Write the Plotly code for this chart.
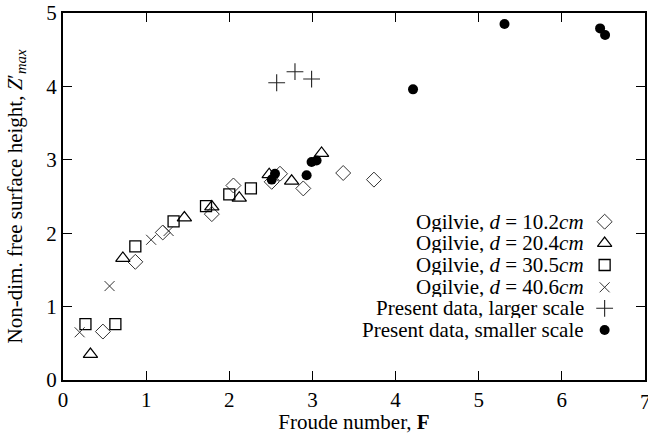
import plotly.graph_objects as go

# ---- data ----
d102_x = [0.48, 0.87, 1.20, 1.79, 2.05, 2.51, 2.61, 2.89, 3.37, 3.74]
d102_y = [0.66, 1.61, 2.01, 2.26, 2.65, 2.70, 2.81, 2.61, 2.82, 2.73]

d204_x = [0.33, 0.72, 1.46, 1.79, 2.12, 2.48, 2.75, 3.11]
d204_y = [0.35, 1.66, 2.21, 2.36, 2.48, 2.80, 2.71, 3.09]

d305_x = [0.27, 0.63, 0.87, 1.33, 1.72, 2.00, 2.26]
d305_y = [0.76, 0.76, 1.82, 2.16, 2.37, 2.53, 2.61]

d406_x = [0.20, 0.56, 1.06, 1.27]
d406_y = [0.65, 1.28, 1.91, 2.03]

large_x = [2.57, 2.79, 2.99]
large_y = [4.05, 4.20, 4.10]

small_x = [2.51, 2.55, 2.93, 2.99, 3.05, 4.21, 5.31, 6.46, 6.52]
small_y = [2.73, 2.81, 2.79, 2.97, 2.99, 3.96, 4.85, 4.79, 4.70]

legend_labels = [
    "Ogilvie, <i>d</i> = 10.2<i>cm</i>",
    "Ogilvie, <i>d</i> = 20.4<i>cm</i>",
    "Ogilvie, <i>d</i> = 30.5<i>cm</i>",
    "Ogilvie, <i>d</i> = 40.6<i>cm</i>",
    "Present data, larger scale",
    "Present data, smaller scale",
]

x_ticks = [0, 1, 2, 3, 4, 5, 6, 7]
y_ticks = [0, 1, 2, 3, 4, 5]

FONT = "Liberation Serif"
FS = 21

styles = [
    dict(symbol="diamond-open", size=11.5, color="#333", line=dict(width=1, color="#333")),
    dict(symbol="triangle-up-open", size=12.5, color="black", line=dict(width=1.2, color="black")),
    dict(symbol="square-open", size=11, color="black", line=dict(width=1.3, color="black")),
    dict(symbol="x-thin", size=10, color="#333", line=dict(width=1, color="#333")),
    dict(symbol="cross-thin", size=12, color="#222", line=dict(width=1.1, color="#222")),
    dict(symbol="circle", size=10, color="black", line=dict(width=0, color="black")),
]
series = [(d102_x, d102_y), (d204_x, d204_y), (d305_x, d305_y),
          (d406_x, d406_y), (large_x, large_y), (small_x, small_y)]

fig = go.Figure()
for (xs, ys), st in zip(series, styles):
    fig.add_trace(go.Scatter(x=xs, y=ys, mode="markers", marker=st,
                             showlegend=False, hoverinfo="skip"))

# custom legend: text right-aligned, symbol to the right
L = 63.5
W = 584
H = 367
B = 380
text_right_px = 587
sym_px = 607
row_px = [221.7, 243.3, 265.0, 287.3, 308.3, 330.0]
lx = [(sym_px - L) / W] * len(row_px)
ly = [(B - r) / H for r in row_px]
for i, (lab, st) in enumerate(zip(legend_labels, styles)):
    fig.add_trace(go.Scatter(x=[lx[i]], y=[ly[i]], mode="markers", marker=st,
                             xaxis="x2", yaxis="y2", showlegend=False, hoverinfo="skip"))
    fig.add_annotation(x=(text_right_px - L) / W, y=ly[i], xref="paper", yref="paper",
                       text=lab, showarrow=False, xanchor="right", yanchor="middle",
                       height=20, borderpad=0, valign="middle",
                       font=dict(family=FONT, size=FS, color="black"))

# last x tick label sits on the figure edge (partly cut, as in the reference)
fig.add_annotation(x=x_ticks[-1], y=0, xref="x", yref="paper", text=str(x_ticks[-1]),
                   showarrow=False, xanchor="center", yanchor="top", yshift=-8,
                   font=dict(family=FONT, size=FS, color="black"))

axis_common = dict(
    showgrid=False, zeroline=False, showline=True, linecolor="black", linewidth=2,
    mirror="ticks", ticks="inside", ticklen=9, tickwidth=1.3, tickcolor="black",
    tickfont=dict(family=FONT, size=FS, color="black"),
)

fig.update_layout(
    width=648, height=434,
    margin=dict(l=63, r=1, t=13, b=54),
    paper_bgcolor="white", plot_bgcolor="white",
    xaxis=dict(range=[0, 7], tickvals=x_ticks[:-1], ticktext=[str(v) for v in x_ticks[:-1]],
               title=dict(text="Froude number, <b>F</b>", font=dict(family=FONT, size=FS, color="black"),
                          standoff=0),
               **axis_common),
    yaxis=dict(range=[0, 5], tickvals=y_ticks, ticktext=[str(v) for v in y_ticks],
               title=dict(text="Non-dim. free surface height, <i>Z</i>\u2032<sub><i>max</i></sub>",
                          font=dict(family=FONT, size=FS, color="black"), standoff=18),
               **axis_common),
    xaxis2=dict(range=[0, 1], overlaying="x", visible=False, fixedrange=True),
    yaxis2=dict(range=[0, 1], overlaying="y", visible=False, fixedrange=True),
)

fig.write_html("out.html")
